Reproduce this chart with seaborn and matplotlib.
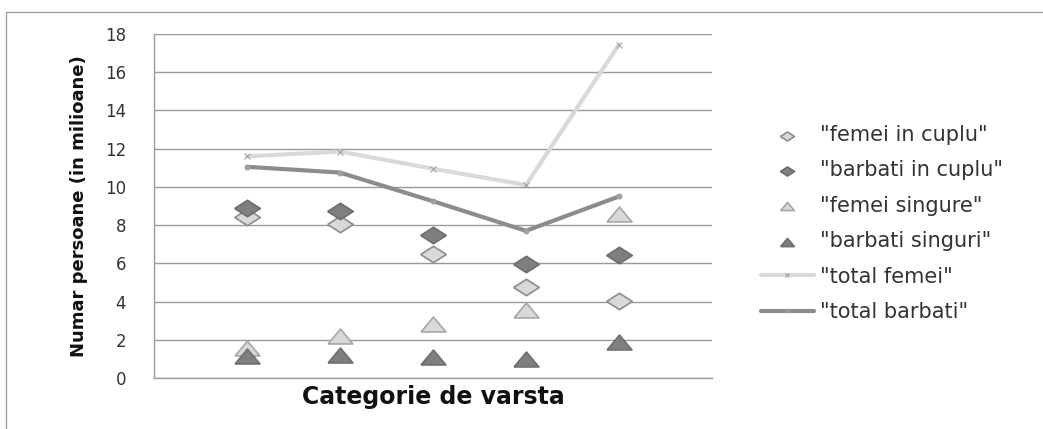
import pandas as pd
import matplotlib.pyplot as plt
import seaborn as sns
from matplotlib.patches import Rectangle

# ===== Data =====
categorii = [1, 2, 3, 4, 5]
femei_cuplu = [8.4, 8.05, 6.5, 4.75, 4.05]
barbati_cuplu = [8.9, 8.75, 7.5, 5.95, 6.45]
femei_singure = [1.55, 2.2, 2.8, 3.55, 8.6]
barbati_singuri = [1.15, 1.18, 1.1, 0.98, 1.88]
total_femei = [11.6, 11.85, 10.95, 10.1, 17.45]
total_barbati = [11.05, 10.75, 9.25, 7.7, 9.5]

sns.set_style("white")
plt.rcParams['font.family'] = ['DejaVu Sans']

fig = plt.figure(figsize=(10.43, 4.29), dpi=100)
ax = fig.add_axes([154 / 1043, 51 / 429, 558 / 1043, 344 / 429])

diamond = [(-1, 0), (0, 0.64), (1, 0), (0, -0.64), (-1, 0)]
triangle = [(-1, -0.6), (0, 0.6), (1, -0.6), (-1, -0.6)]

# ===== Lines =====
sns.lineplot(x=categorii, y=total_femei, ax=ax, color="#d9d9d9", lw=3,
             marker="x", markersize=4, markeredgecolor="#a0a0a0",
             label='"total femei"', zorder=2)
sns.lineplot(x=categorii, y=total_barbati, ax=ax, color="#8c8c8c", lw=3,
             marker="o", markersize=3.5, markeredgecolor="#a0a0a0",
             markerfacecolor="#a0a0a0", label='"total barbati"', zorder=2)

# ===== Scatter series =====
sns.scatterplot(x=categorii, y=femei_cuplu, ax=ax, marker=diamond, s=340,
                color="#d9d9d9", edgecolor="#8c8c8c", linewidth=1.2,
                label='"femei in cuplu"', zorder=3)
sns.scatterplot(x=categorii, y=barbati_cuplu, ax=ax, marker=diamond, s=340,
                color="#7f7f7f", edgecolor="#6e6e6e", linewidth=1.2,
                label='"barbati in cuplu"', zorder=3)
sns.scatterplot(x=categorii, y=femei_singure, ax=ax, marker=triangle, s=320,
                color="#d9d9d9", edgecolor="#a6a6a6", linewidth=1.2,
                label='"femei singure"', zorder=3)
sns.scatterplot(x=categorii, y=barbati_singuri, ax=ax, marker=triangle, s=320,
                color="#7f7f7f", edgecolor="#6e6e6e", linewidth=1.2,
                label='"barbati singuri"', zorder=3)

# ===== Axes =====
ax.set_xlim(0, 6)
ax.set_ylim(0, 18)
ax.set_xticks([])
ax.set_yticks(range(0, 19, 2))
ax.yaxis.grid(True, color="#999999", lw=1)
ax.set_axisbelow(True)
for side in ["top", "right"]:
    ax.spines[side].set_visible(False)
for side in ["left", "bottom"]:
    ax.spines[side].set_color("#999999")
    ax.spines[side].set_linewidth(1)
ax.tick_params(axis="y", length=0, pad=20, labelsize=12, labelcolor="#333333")

ax.set_xlabel("Categorie de varsta", fontsize=17, fontweight="bold",
              color="#111111", labelpad=5)
ax.set_ylabel("Numar persoane (in milioane)", fontsize=13, fontweight="bold",
              color="#111111", labelpad=12)

# ===== Legend =====
h, l = ax.get_legend_handles_labels()
order = [2, 3, 4, 5, 0, 1]
ax.legend([h[i] for i in order], [l[i] for i in order],
          loc="upper left", bbox_to_anchor=(1.055, 0.79), frameon=False,
          fontsize=15, labelspacing=0.74, handlelength=2.5, handletextpad=0.3,
          labelcolor="#333333", markerscale=0.55)

# ===== Outer border =====
fig.patches.append(Rectangle((6 / 1043, -0.1), 1.2, (417 / 429) + 0.1,
                             transform=fig.transFigure, fill=False,
                             edgecolor="#a0a0a0", lw=1))

plt.savefig("out.png", dpi=100)
